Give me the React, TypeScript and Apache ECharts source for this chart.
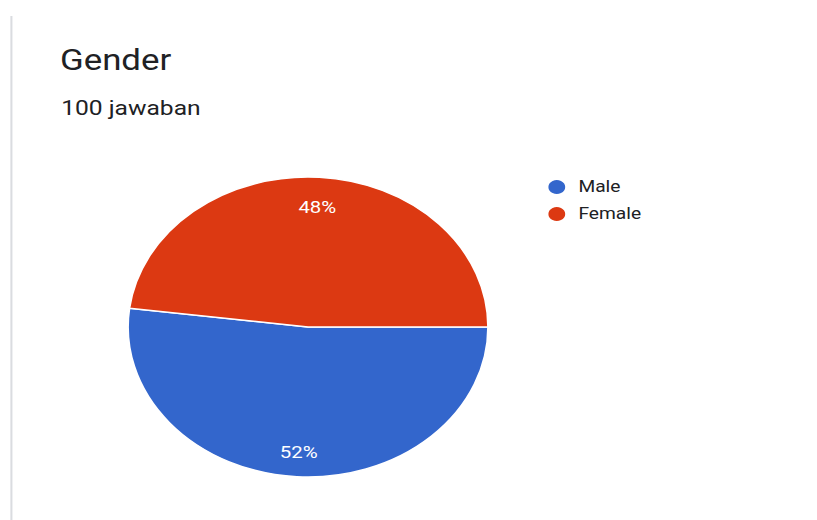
import React, { useEffect, useRef } from 'react';
import * as echarts from 'echarts';

const categories = ['Male', 'Female'];
const values = [52, 48];
const colors = ['#3366cc', '#dc3912'];
const titleText = 'Gender';
const subtitleText = '100 jawaban';

export default function App() {
  const ref = useRef<HTMLDivElement>(null);
  useEffect(() => {
    const chart = echarts.init(ref.current!, undefined, { renderer: 'svg', width: 681, height: 520 });
    const data = categories.map((name, i) => ({ name, value: values[i] }));
    const font = 'Roboto, "Noto Sans", sans-serif';
    chart.setOption({
      animation: false,
      color: colors,
      title: [
        {
          text: titleText,
          left: 50,
          top: 46,
          padding: 0,
          textStyle: { fontSize: 29, fontWeight: 'normal', color: '#202124', fontFamily: font },
        },
        {
          text: subtitleText,
          left: 51,
          top: 98,
          padding: 0,
          textStyle: { fontSize: 20.5, fontWeight: 'normal', color: '#202124', fontFamily: font },
        },
      ],
      legend: {
        data: categories,
        orient: 'vertical',
        left: 455,
        top: 178,
        padding: 0,
        icon: 'circle',
        itemWidth: 16,
        itemHeight: 16,
        itemGap: 9,
        selectedMode: false,
        textStyle: { fontSize: 16, color: '#202124', fontFamily: font, padding: [0, 0, 0, 5] },
      },
      graphic: [
        {
          type: 'line',
          shape: { x1: 9.5, y1: 16, x2: 9.5, y2: 520 },
          style: { stroke: '#dadce0', lineWidth: 1.7 },
        },
      ],
      series: [
        {
          type: 'pie',
          center: [256.7, 327],
          radius: [0, 150],
          startAngle: 0,
          clockwise: true,
          silent: true,
          label: { show: false },
          labelLine: { show: false },
          itemStyle: { borderColor: '#ffffff', borderWidth: 1.5 },
          data,
        },
        {
          type: 'pie',
          center: [256.7, 327],
          radius: [90, 150],
          startAngle: 0,
          clockwise: true,
          silent: true,
          itemStyle: { color: 'rgba(0,0,0,0)' },
          label: {
            show: true,
            position: 'inside',
            color: '#ffffff',
            fontSize: 17,
            fontFamily: font,
            offset: [0, 3],
            formatter: (p: any) => Math.round(p.percent) + '%',
          },
          labelLine: { show: false },
          data,
        },
      ],
    });
    return () => chart.dispose();
  }, []);
  return (
    <div style={{ position: 'absolute', left: 0, top: 0, width: 817, height: 520, overflow: 'hidden', background: '#fff' }}>
      <div ref={ref} style={{ width: 681, height: 520, transform: 'scaleX(1.2)', transformOrigin: '0 0' }} />
    </div>
  );
}
